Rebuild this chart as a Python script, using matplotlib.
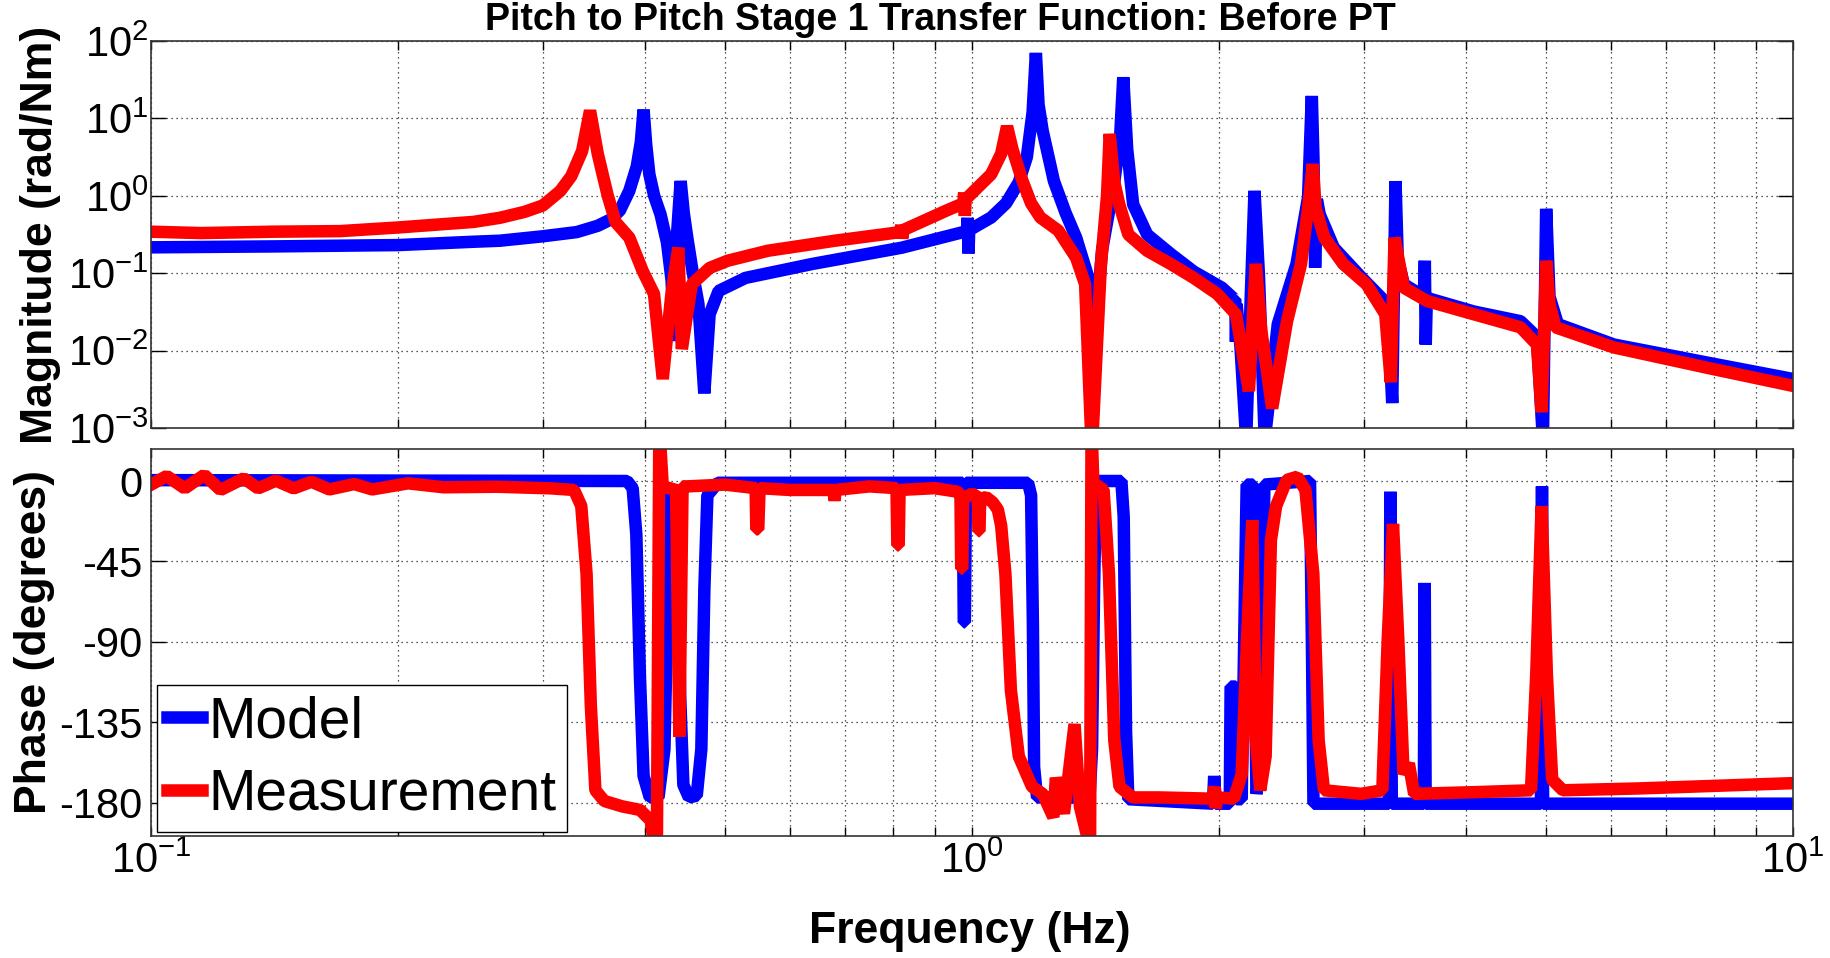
import matplotlib
matplotlib.use('Agg')
import matplotlib.pyplot as plt
from matplotlib.ticker import LogLocator, NullFormatter, NullLocator, FixedLocator

plt.rcParams['font.family'] = ['Liberation Sans', 'DejaVu Sans']
plt.rcParams['axes.unicode_minus'] = False

# --- data (frequency in Hz) ---
model_mag_f = [0.1, 0.141, 0.2, 0.247, 0.266, 0.3, 0.33, 0.35, 0.3636, 0.3725, 0.3824, 0.3905,
               0.395, 0.398, 0.401, 0.4045, 0.41, 0.4174, 0.425, 0.4306, 0.4333, 0.437,
               0.4416, 0.4455, 0.4499, 0.457, 0.4642, 0.4719, 0.479, 0.4913, 0.5297, 0.6394,
               0.8214, 0.986, 0.988, 0.990, 0.992, 1.055, 1.1, 1.14, 1.166, 1.185, 1.196, 1.205,
               1.219, 1.258, 1.30, 1.339, 1.39, 1.408, 1.44, 1.49, 1.515, 1.528, 1.545, 1.571,
               1.634, 1.745, 1.862, 2.015, 2.088, 2.092, 2.096, 2.10, 2.123, 2.157, 2.185,
               2.208, 2.235, 2.251, 2.272, 2.357, 2.484, 2.566, 2.593, 2.605, 2.617, 2.63,
               2.651, 2.758, 2.984, 3.206, 3.249, 3.279, 3.30, 3.357, 3.55, 3.56, 3.569, 3.58,
               4.085, 4.656, 4.875, 4.958, 5.003, 5.05, 5.17, 6.048, 7.861, 10.0]
model_mag = [0.216, 0.222, 0.231, 0.255, 0.263, 0.30, 0.34, 0.41, 0.5, 0.65, 1.16, 2.4,
             5.0, 13.0, 4.5, 1.9, 1.0, 0.575, 0.25, 0.08, 0.0133, 0.3,
             1.55, 0.6, 0.288, 0.1, 0.04, 0.0028, 0.0295, 0.059, 0.087, 0.132,
             0.214, 0.35, 0.52, 0.18, 0.36, 0.525, 0.8, 1.5, 3.16, 12.0, 70.0, 15.0,
             6.9, 1.55, 0.6, 0.288, 0.079, 0.012, 0.2, 1.5, 6.0, 34.0, 4.0, 0.776,
             0.316, 0.178, 0.105, 0.065, 0.046, 0.046, 0.013, 0.04, 0.011, 0.0007, 0.05,
             1.16, 0.1, 0.013, 0.0007, 0.022, 0.132, 0.955, 19.5, 3.0, 0.118, 0.9,
             0.575, 0.214, 0.087, 0.04, 0.0021, 1.55, 0.15, 0.072, 0.05, 0.145, 0.012, 0.048,
             0.032, 0.024, 0.015, 0.0007, 0.68, 0.05, 0.022, 0.012, 0.007, 0.0043]

meas_mag_f = [0.1, 0.115, 0.141, 0.17, 0.2, 0.247, 0.266, 0.285, 0.3, 0.315, 0.325, 0.335,
              0.3425, 0.35, 0.3548, 0.36,
              0.368, 0.3824, 0.397, 0.4098, 0.42, 0.43, 0.4387, 0.4431, 0.4556, 0.479,
              0.5038, 0.5638, 0.6807, 0.818, 0.820, 0.822, 0.824, 0.931, 0.976, 0.978,
              0.980, 0.982, 1.055, 1.085, 1.103, 1.12, 1.152, 1.18, 1.211, 1.274, 1.339,
              1.373, 1.399, 1.435,
              1.46, 1.471, 1.49, 1.511, 1.55, 1.634, 1.745, 1.862, 1.989, 2.096, 2.174,
              2.216, 2.251, 2.32, 2.419, 2.516, 2.57, 2.6, 2.62, 2.686, 2.831, 3.023, 3.186,
              3.236, 3.27, 3.357, 3.583, 4.085, 4.656, 4.875, 4.939, 5.003, 5.05, 5.136,
              6.048, 7.861, 10.0]
meas_mag = [0.344, 0.33, 0.344, 0.35, 0.39, 0.46, 0.52, 0.62, 0.75, 1.15, 1.8, 3.8,
            12.6, 3.5, 1.9, 1.0,
            0.457, 0.288, 0.107, 0.054, 0.0043, 0.05, 0.214, 0.0105, 0.072, 0.117,
            0.145, 0.195, 0.263, 0.34, 0.42, 0.28, 0.36, 0.646, 0.8, 1.1,
            0.55, 0.9, 1.9, 3.5, 7.9, 4.0, 1.55, 0.8, 0.525, 0.355, 0.158,
            0.072, 0.0005, 0.126,
            1.0, 6.3, 1.5, 0.776, 0.316, 0.195, 0.132, 0.087, 0.054, 0.0295, 0.003,
            0.132, 0.0178, 0.0018, 0.024, 0.132, 0.8, 2.57, 0.7, 0.288, 0.132, 0.072, 0.0295,
            0.0039, 0.288, 0.065, 0.0437, 0.0295, 0.020, 0.012, 0.0016, 0.145, 0.04, 0.020,
            0.011, 0.006, 0.0035]

model_ph_f = [0.1, 0.38, 0.386, 0.39, 0.394, 0.398, 0.405, 0.415, 0.422, 0.426, 0.43, 0.434,
              0.438, 0.441, 0.445, 0.452, 0.462, 0.468, 0.472, 0.476, 0.49, 0.974, 0.977,
              0.980, 0.983, 1.17, 1.18, 1.186, 1.19, 1.2, 1.39, 1.40, 1.408, 1.415, 1.425,
              1.52, 1.53, 1.54, 1.55, 1.965, 1.972, 1.98, 2.06, 2.065, 2.095, 2.10, 2.13,
              2.15, 2.16, 2.20, 2.21, 2.22, 2.245, 2.26, 2.27, 2.58, 2.595, 2.605, 3.22,
              3.232, 3.245, 3.55, 3.559, 3.568, 4.93, 4.945, 4.96, 10.0]
model_ph = [0.5, 0, -4, -30, -110, -165, -177, -177, -150, -60, -8, -4,
            -30, -120, -170, -177, -176, -150, -60, -8, -1, -1, -79,
            -79, -1, -1, -8, -80, -160, -177, -177, -150, -60, -5, 0,
            0, -20, -140, -178, -180.5, -165, -180.5, -180.5, -115, -115, -178, -178,
            -60, -2, -2, -100, -175, -160, -60, -2, 0, -100, -180.5, -180.5,
            -6, -180.5, -180.5, -57, -180.5, -180.5, -3, -180.5, -180.5]

meas_ph_f = [0.1, 0.1045, 0.1099, 0.1161, 0.1215, 0.1297, 0.135, 0.1419, 0.1492, 0.1568,
             0.1649, 0.1768, 0.1859, 0.2056, 0.2272, 0.264, 0.3068, 0.3275, 0.3342, 0.3392,
             0.3433, 0.3477, 0.3565, 0.3748, 0.3941, 0.4062, 0.413, 0.416, 0.42, 0.436,
             0.44, 0.444, 0.45, 0.50, 0.545, 0.546, 0.549, 0.551, 0.60, 0.678, 0.68,
             0.682, 0.75, 0.809, 0.811, 0.814, 0.816, 0.90, 0.96, 0.968, 0.970, 0.973,
             0.975, 1.0, 1.016, 1.018, 1.021, 1.023, 1.04, 1.06, 1.075, 1.085, 1.098,
             1.115, 1.14, 1.183, 1.219, 1.256, 1.265, 1.294, 1.333, 1.353, 1.383, 1.392,
             1.398, 1.405, 1.446, 1.468, 1.49, 1.512, 1.57, 1.691, 1.963, 1.975, 1.98,
             1.99, 2.084, 2.13, 2.162, 2.194, 2.217, 2.244, 2.278, 2.312, 2.346, 2.417,
             2.49, 2.547, 2.604, 2.643, 2.683, 2.977, 3.16, 3.208, 3.256, 3.305, 3.354,
             3.404, 3.455, 4.13, 4.795, 4.866, 4.939, 5.013, 5.088, 5.242, 6.457, 7.491,
             10.0]
meas_ph = [-2, 2.8, -4.1, 3.4, -5, 1.5, -4.1, 0.2, -4.1, -0.4,
           -4.7, -1.7, -4.7, -1.3, -3.5, -3.2, -4.1, -5, -14, -52,
           -126, -173, -179, -182, -184, -190, -215, 30, -3, -5,
           -143, -3, -3, -2, -4, -27, -27, -4, -5, -5, -11,
           -5, -3, -4, -36, -36, -5, -4, -6, -8, -49, -49,
           -10, -7, -9, -28, -28, -10, -9, -12, -16, -25, -52,
           -117, -154, -171, -175, -188, -166, -186, -136, -182, -200, -215,
           30, -1, -5, -52, -145, -171, -177, -177, -177.7, -171, -183,
           -177, -177.7, -164, -89, -22, -145, -173, -154, -33, -14, 0.6,
           2.4, -5, -52, -145, -173, -175, -173, -89, -24, -89, -164,
           -158, -175, -174, -173, -108, -14, -108, -167, -173, -172, -171,
           -169]

x_ticks = [0.1, 1.0, 10.0]
mag_ticks = [1e-3, 1e-2, 1e-1, 1e0, 1e1, 1e2]
ph_ticks = [-180, -135, -90, -45, 0]
ph_labels = ['-180', '-135', '-90', '-45', '0']

LW = 9
fig = plt.figure(figsize=(18.31, 9.58), dpi=100)
ax_m = fig.add_axes([0.0825, 0.5532, 0.8968, 0.404])
ax_p = fig.add_axes([0.0825, 0.1273, 0.8968, 0.404])

ax_m.loglog(model_mag_f, model_mag, color='#0000ff', lw=LW, solid_joinstyle='bevel')
ax_m.loglog(meas_mag_f, meas_mag, color='#ff0000', lw=LW, solid_joinstyle='bevel')
l1, = ax_p.semilogx(model_ph_f, model_ph, color='#0000ff', lw=LW, solid_joinstyle='bevel')
l2, = ax_p.semilogx(meas_ph_f, meas_ph, color='#ff0000', lw=LW, solid_joinstyle='bevel')

for ax in (ax_m, ax_p):
    ax.set_xlim(0.1, 10)
    ax.xaxis.set_major_locator(FixedLocator(x_ticks))
    ax.xaxis.set_minor_locator(LogLocator(base=10, subs=range(2, 10)))
    ax.xaxis.set_minor_formatter(NullFormatter())
    ax.grid(True, which='both', axis='x', color='#222222', linestyle=(0, (1, 3)), lw=0.9)
    ax.grid(True, which='major', axis='y', color='#222222', linestyle=(0, (1, 3)), lw=0.9)
    ax.tick_params(axis='x', which='both', direction='in', top=True, bottom=True,
                   length=6.5, width=1, labelsize=30, pad=4)
    ax.tick_params(axis='y', which='both', direction='in', left=True, right=True,
                   length=11, width=1, labelsize=30)
    for s in ax.spines.values():
        s.set_linewidth(1.2)
        s.set_color('#333333')

ax_m.set_ylim(1e-3, 1e2)
ax_m.yaxis.set_major_locator(FixedLocator(mag_ticks))
ax_m.yaxis.set_minor_locator(NullLocator())
ax_m.tick_params(axis='x', labelbottom=False)
ax_m.tick_params(axis='y', pad=2)

ax_p.set_ylim(-198.6, 17.9)
ax_p.set_yticks(ph_ticks)
ax_p.set_yticklabels(ph_labels)
ax_p.tick_params(axis='y', pad=6)

leg = ax_p.legend([l1, l2], ['Model', 'Measurement'], loc='lower left',
                  bbox_to_anchor=(0.0037, 0.01), borderaxespad=0, fontsize=41,
                  handlelength=0.6, handletextpad=0.12, borderpad=0.18,
                  labelspacing=0.33, fancybox=False, framealpha=1, edgecolor='black')
leg.get_frame().set_linewidth(1.0)

fig.text(0.5134, 0.998, 'Pitch to Pitch Stage 1 Transfer Function: Before PT',
         ha='center', va='top', fontsize=27, fontweight='bold')
fig.text(0.0223, 0.7552, 'Magnitude (rad/Nm)', rotation=90, ha='center', va='center',
         fontsize=32, fontweight='bold')
fig.text(0.019, 0.3299, 'Phase (degrees)', rotation=90, ha='center', va='center',
         fontsize=32, fontweight='bold')
fig.text(0.5297, 0.0157, 'Frequency (Hz)', ha='center', va='baseline',
         fontsize=32, fontweight='bold')

fig.savefig('out.png', dpi=100)
